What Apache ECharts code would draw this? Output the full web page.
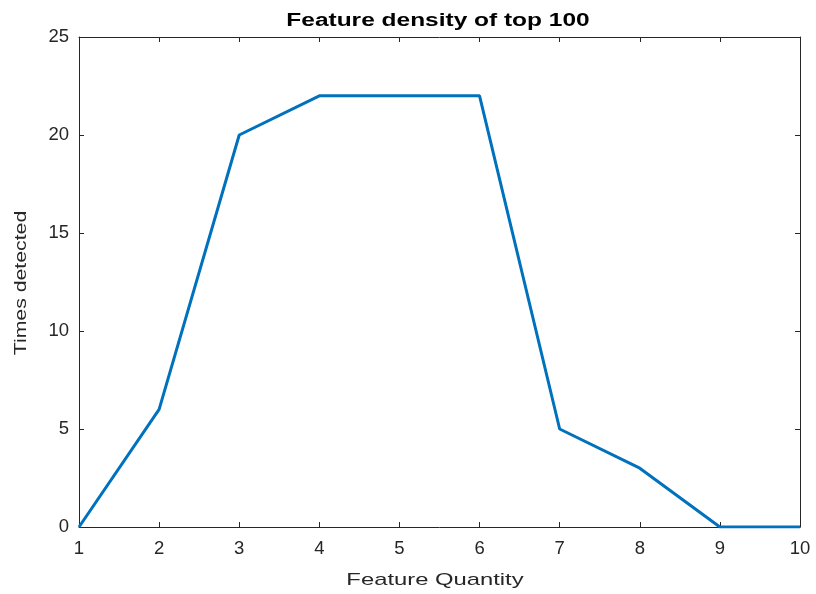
<!DOCTYPE html>
<html><head><meta charset="utf-8">
<script src="https://cdn.jsdelivr.net/npm/echarts@6/dist/echarts.min.js"></script>
<style>html,body{margin:0;padding:0;background:#fff}#c{width:816px;height:594px}</style>
</head><body><div id="c"></div>
<script>
const featureQuantity = [1, 2, 3, 4, 5, 6, 7, 8, 9, 10];
const timesDetected = [0, 6, 20, 22, 22, 22, 5, 3, 0, 0];
const xTicks = [1, 2, 3, 4, 5, 6, 7, 8, 9, 10];
const yTicks = [0, 5, 10, 15, 20, 25];
const titleText = 'Feature density of top 100';
const xName = 'Feature Quantity';
const yName = 'Times detected';

const chart = echarts.init(document.getElementById('c'));
const axisColor = '#262626';
const FONT = 'Liberation Sans, Arial, Helvetica, sans-serif';
const lbl = {color: axisColor, fontFamily: FONT, fontSize: 18.5};
const baseX = {
  type: 'value', min: xTicks[0], max: xTicks[xTicks.length - 1], interval: 1,
  axisLine: {show: true, onZero: false, lineStyle: {color: axisColor, width: 1}},
  axisTick: {show: true, inside: true, length: 5, lineStyle: {color: axisColor}},
  splitLine: {show: false}
};
const baseY = {
  type: 'value', min: yTicks[0], max: yTicks[yTicks.length - 1], interval: 5,
  axisLine: {show: true, onZero: false, lineStyle: {color: axisColor, width: 1}},
  axisTick: {show: true, inside: true, length: 5, lineStyle: {color: axisColor}},
  splitLine: {show: false}
};
chart.setOption({
  animation: false,
  backgroundColor: '#fff',
  grid: {left: 79, top: 37, width: 721, height: 490, containLabel: false},
  graphic: [
    {type: 'text', x: 438, y: 30, scaleX: 1.36,
     style: {text: titleText, fontFamily: FONT, fontSize: 18, fontWeight: 'bold', fill: '#000',
             textAlign: 'center', textVerticalAlign: 'bottom'}},
    {type: 'text', x: 435, y: 589, scaleX: 1.4,
     style: {text: xName, fontFamily: FONT, fontSize: 17, fill: axisColor,
             textAlign: 'center', textVerticalAlign: 'bottom'}},
    {type: 'text', x: 13, y: 283, rotation: Math.PI / 2, scaleX: 1.25,
     style: {text: yName, fontFamily: FONT, fontSize: 17, fill: axisColor,
             textAlign: 'center', textVerticalAlign: 'top'}}
  ],
  xAxis: [
    Object.assign({}, baseX, {
      position: 'bottom',
      axisLabel: Object.assign({}, lbl, {margin: 12})
    }),
    Object.assign({}, baseX, {position: 'top', axisLabel: {show: false}})
  ],
  yAxis: [
    Object.assign({}, baseY, {
      position: 'left',
      axisLabel: Object.assign({}, lbl, {margin: 10, padding: [4, 0, 0, 0]})
    }),
    Object.assign({}, baseY, {position: 'right', axisLabel: {show: false}})
  ],
  series: [{
    type: 'line',
    data: featureQuantity.map((x, i) => [x, timesDetected[i]]),
    showSymbol: false,
    lineStyle: {color: '#0072BD', width: 3},
    itemStyle: {color: '#0072BD'}
  }]
});
</script></body></html>
